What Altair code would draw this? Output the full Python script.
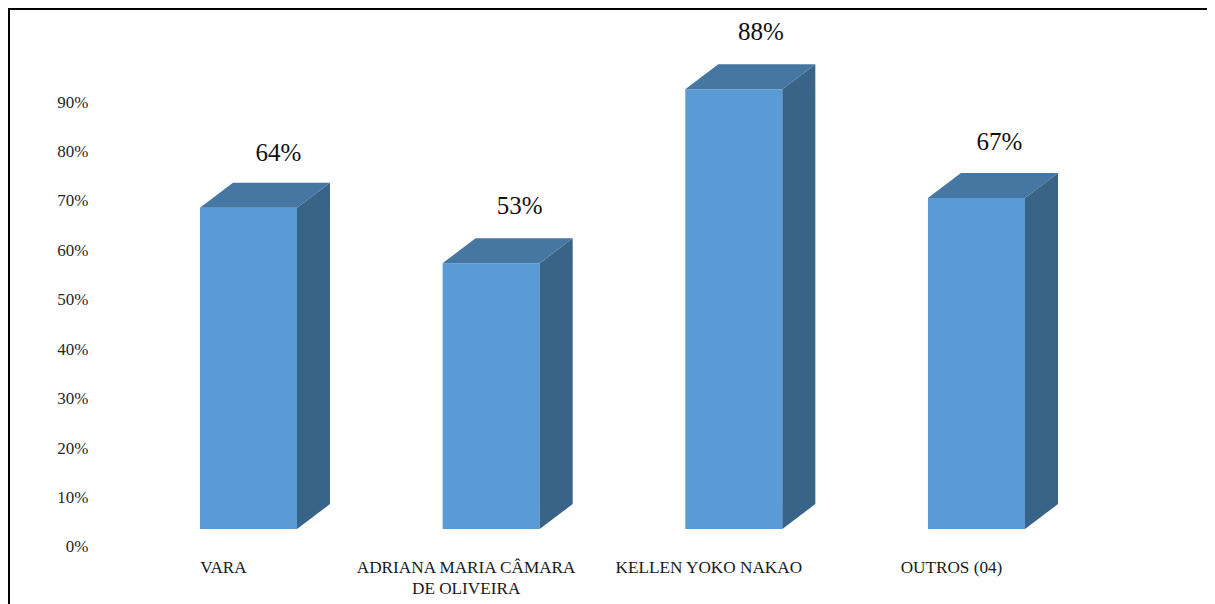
import altair as alt
import pandas as pd

categories = ["VARA", "ADRIANA MARIA CÂMARA DE OLIVEIRA", "KELLEN YOKO NAKAO", "OUTROS (04)"]
category_lines = [["VARA"], ["ADRIANA MARIA CÂMARA", "DE OLIVEIRA"], ["KELLEN YOKO NAKAO"], ["OUTROS (04)"]]
value_labels = ["64%", "53%", "88%", "67%"]
bar_tops = [68.6, 57.4, 92.6, 70.6]   # front-face top read against the axis
bar_floor = 3.64                      # front-face bottom read against the axis
axis_ticks = [0, 10, 20, 30, 40, 50, 60, 70, 80, 90]

W, H = 1199, 596
HALF = 0.2       # half bar width, in category units
DEPTH_X = 0.136  # 3D depth, in category units
DEPTH_Y = 5.05   # 3D depth, in axis units
FRONT, TOP, SIDE = "#5B9BD5", "#4676A2", "#396387"

x_scale = alt.Scale(domain=[-0.991, 3.950], nice=False, zero=False)
y_scale = alt.Scale(domain=[-11.53, 109.02], nice=False, zero=False)
y_axis = alt.Axis(values=axis_ticks, labelExpr="datum.value + '%'", title=None,
                  domain=False, ticks=False, grid=False, offset=-80, labelPadding=0,
                  labelFont="Liberation Serif", labelFontSize=17,
                  labelColor="#262626")

rows = pd.DataFrame({"i": range(4), "cat": categories, "top": bar_tops,
                     "label": value_labels, "lines": category_lines})
rows["floor"] = bar_floor
rows["x0"] = rows.i - HALF
rows["x1"] = rows.i + HALF

side_rows, top_rows = [], []
for i, t in zip(rows.i, rows.top):
    for k in (0, 1):
        side_rows.append({"i": i, "x": i + HALF + k * DEPTH_X,
                          "hi": t + k * DEPTH_Y, "lo": bar_floor + k * DEPTH_Y})
        top_rows.append({"i": i, "y": t + k * DEPTH_Y,
                         "xa": i - HALF + k * DEPTH_X, "xb": i + HALF + k * DEPTH_X})
side_df, top_df = pd.DataFrame(side_rows), pd.DataFrame(top_rows)

X = lambda f: alt.X(f, type="quantitative", scale=x_scale, axis=None)
Y = lambda f: alt.Y(f, type="quantitative", scale=y_scale, axis=y_axis)

front = alt.Chart(rows).mark_rect(color=FRONT).encode(
    x=X("x0"), x2="x1", y=Y("floor"), y2="top")

side = alt.Chart(side_df).mark_area(color=SIDE).encode(
    x=X("x"), y=Y("hi"), y2="lo", detail="i:N")
top = alt.Chart(top_df).mark_area(color=TOP, orient="horizontal").encode(
    y=Y("y"), x=X("xa"), x2="xb", detail="i:N")

value_dx = [30, 28.5, 27, 23]
value_dy = [-55, -57, -57, -56]
value_text = [
    alt.Chart(rows[rows.i == i]).mark_text(
        font="Liberation Serif", fontSize=25, color="#111111", baseline="middle",
        dx=value_dx[i], dy=value_dy[i]).encode(x=X("i"), y=Y("top"), text="label:N")
    for i in range(4)
]

cat_text = alt.Chart(rows).mark_text(
    font="Liberation Serif", fontSize=17.2, color="#1a1a1a", baseline="middle",
    dx=-25, lineHeight=21).encode(
    x=X("i"), y=alt.value(560), text="lines")

frame_left = alt.Chart(rows).mark_rule(color="black", strokeWidth=2).encode(
    x=alt.value(1), y=alt.value(0), y2=alt.value(H))
frame_top = alt.Chart(rows).mark_rule(color="black", strokeWidth=2).encode(
    y=alt.value(1), x=alt.value(0), x2=alt.value(W))

chart = alt.layer(front, side, top, *value_text, cat_text, frame_left, frame_top).properties(
    width=W, height=H, padding=0, autosize="none", background="white"
).configure_view(stroke=None)

chart.save("out.html", embed_options={"renderer": "svg", "actions": False})
